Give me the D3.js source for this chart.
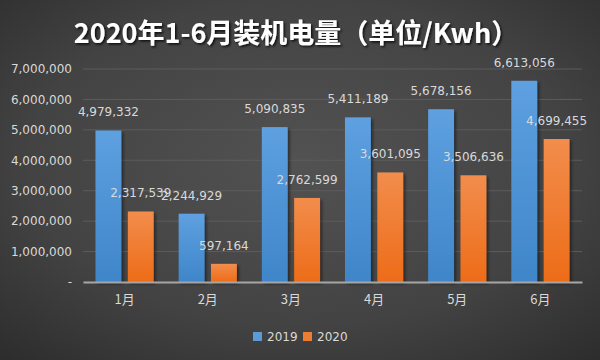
<!DOCTYPE html>
<html><head><meta charset="utf-8">
<script src="https://cdn.jsdelivr.net/npm/d3@7"></script>
<style>html,body{margin:0;padding:0;background:#3a3a3a;}svg{display:block;}</style>
</head><body>
<script>
const categories = ["1月","2月","3月","4月","5月","6月"];
const seriesNames = ["2019","2020"];
const values2019 = [4979332, 2244929, 5090835, 5411189, 5678156, 6613056];
const values2020 = [2317539, 597164, 2762599, 3601095, 3506636, 4699455];
const yTicks = [0,1000000,2000000,3000000,4000000,5000000,6000000,7000000];
const title = "2020年1-6月装机电量（单位/Kwh）";

const W = 600, H = 360;
const svg = d3.select("body").append("svg").attr("width", W).attr("height", H);
const defs = svg.append("defs");
const bg = defs.append("radialGradient").attr("id","bg").attr("cx","50%").attr("cy","45%").attr("r","75%");
bg.append("stop").attr("offset","0%").attr("stop-color","#525252");
bg.append("stop").attr("offset","60%").attr("stop-color","#434343");
bg.append("stop").attr("offset","100%").attr("stop-color","#2c2c2c");
const gb = defs.append("linearGradient").attr("id","gBlue").attr("x1",0).attr("y1",0).attr("x2",0).attr("y2",1);
gb.append("stop").attr("offset","0%").attr("stop-color","#5ea0e0");
gb.append("stop").attr("offset","100%").attr("stop-color","#3f86c9");
const go = defs.append("linearGradient").attr("id","gOrange").attr("x1",0).attr("y1",0).attr("x2",0).attr("y2",1);
go.append("stop").attr("offset","0%").attr("stop-color","#f28d4c");
go.append("stop").attr("offset","100%").attr("stop-color","#ed6c18");
const sh = defs.append("filter").attr("id","sh").attr("x","-20%").attr("y","-20%").attr("width","150%").attr("height","150%");
sh.append("feDropShadow").attr("dx",2).attr("dy",2).attr("stdDeviation",1.5).attr("flood-color","#000").attr("flood-opacity",0.45);
const tsh = defs.append("filter").attr("id","tsh").attr("x","-10%").attr("y","-30%").attr("width","120%").attr("height","160%");
tsh.append("feDropShadow").attr("dx",1.5).attr("dy",1.5).attr("stdDeviation",1).attr("flood-color","#000").attr("flood-opacity",0.8);

svg.append("rect").attr("width",W).attr("height",H).attr("fill","url(#bg)");

const m = {left:83, right:18, top:69, bottom:78};
const x0 = d3.scaleBand().domain(categories).range([m.left, W-m.right]).paddingInner(0.3).paddingOuter(0.15);
const x1 = d3.scaleBand().domain(seriesNames).range([0, x0.bandwidth()]).paddingInner(0.2);
const y = d3.scaleLinear().domain([0,7000000]).range([H-m.bottom, m.top]);

// gridlines
svg.append("g").selectAll("line").data(yTicks.slice(1)).join("line")
  .attr("x1", m.left).attr("x2", W-m.right)
  .attr("y1", d=>y(d)).attr("y2", d=>y(d))
  .attr("stroke","#5c5c5c").attr("stroke-width",1);

// y axis labels
const yAxis = d3.axisLeft(y).tickValues(yTicks).tickSize(0).tickPadding(11)
  .tickFormat(d => d===0 ? "-" : d3.format(",")(d));
const ya = svg.append("g").attr("transform",`translate(${m.left},0)`).call(yAxis);
ya.select(".domain").remove();
ya.selectAll("text").attr("fill","#d9d9d9").style("font-family","DejaVu Sans").style("font-size","12px");

const data = categories.map((c,i)=>({cat:c, vals:[{s:"2019",v:values2019[i]},{s:"2020",v:values2020[i]}]}));
const groups = svg.append("g").selectAll("g").data(data).join("g")
  .attr("transform", d=>`translate(${x0(d.cat)},0)`);
groups.selectAll("rect").data(d=>d.vals).join("rect")
  .attr("x", d=>x1(d.s)).attr("width", x1.bandwidth())
  .attr("y", d=>y(d.v)).attr("height", d=>y(0)-y(d.v))
  .attr("fill", d=>d.s==="2019"?"url(#gBlue)":"url(#gOrange)")
  .attr("filter","url(#sh)");

// baseline axis
const xAxis = d3.axisBottom(x0).tickSize(0).tickPadding(13);
const xa = svg.append("g").attr("transform",`translate(0,${y(0)})`).call(xAxis);
xa.select(".domain").attr("stroke","#a6a6a6").attr("stroke-width",2);
xa.selectAll("text").attr("fill","#d9d9d9").style("font-family","'Noto Sans CJK SC', 'DejaVu Sans'").style("font-size","13px");

// data labels
groups.selectAll("text.lbl").data(d=>d.vals).join("text").attr("class","lbl")
  .attr("x", d=>x1(d.s)+x1.bandwidth()/2).attr("y", d=>y(d.v)-14)
  .attr("text-anchor","middle").attr("fill","#d9d9d9")
  .style("font-family","DejaVu Sans").style("font-size","12px")
  .text(d=>d3.format(",")(d.v));

// title
svg.append("text").attr("x",296).attr("y",43).attr("text-anchor","middle")
  .attr("fill","#ffffff").attr("filter","url(#tsh)")
  .style("font-family","'Noto Sans CJK SC'").style("font-weight","bold").style("font-size","27px")
  .text(title);

// legend
const leg = svg.append("g");
const legItems = [{s:"2019",c:"#5b9bd5",x:253},{s:"2020",c:"#ed7d31",x:303}];
const li = leg.selectAll("g").data(legItems).join("g").attr("transform",d=>`translate(${d.x},332)`);
li.append("rect").attr("width",9).attr("height",9).attr("fill",d=>d.c);
li.append("text").attr("x",14).attr("y",8.5).attr("fill","#d9d9d9")
  .style("font-family","DejaVu Sans").style("font-size","12px").text(d=>d.s);
</script>
</body></html>
